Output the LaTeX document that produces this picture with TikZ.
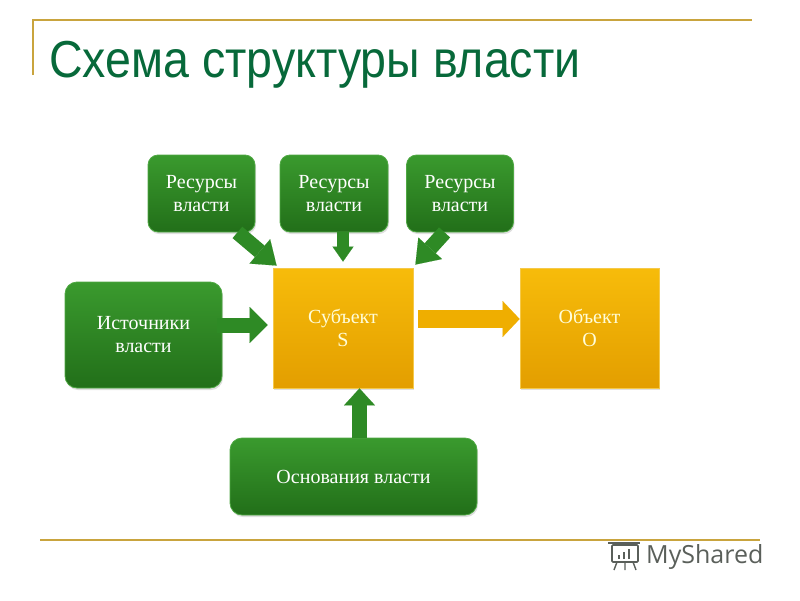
\documentclass[tikz,border=0pt]{standalone}
\usepackage{fontspec}
\setmainfont{Liberation Serif}
\newfontfamily\titlefont{Liberation Sans}
\newfontfamily\logofont{Open Sans}
\usetikzlibrary{positioning,shapes,arrows.meta,shadows}
\usepackage{xcolor}
\definecolor{gold}{HTML}{C9A43E}
\definecolor{titlegreen}{HTML}{07693A}
\definecolor{gtop}{HTML}{3A9A2E}
\definecolor{gbot}{HTML}{226F19}
\definecolor{gedge}{HTML}{4FA843}
\definecolor{garr}{HTML}{2E8A25}
\definecolor{ytop}{HTML}{F7BC0A}
\definecolor{ybot}{HTML}{E39E00}
\definecolor{yedge}{HTML}{F5C94A}
\definecolor{yarr}{HTML}{EFAE00}
\definecolor{logogrey}{HTML}{5A5F5A}

\begin{document}
\begin{tikzpicture}[x=1pt,y=-1pt,
    gbox/.style={rectangle,rounded corners=10pt,draw=gedge,line width=0.8pt,
        top color=gtop,bottom color=gbot,text=white,align=center,inner sep=0pt,
        font=\fontsize{20}{23}\selectfont,
        drop shadow={opacity=0.25,shadow xshift=1pt,shadow yshift=-2pt}},
    ybox/.style={rectangle,draw=yedge,line width=0.8pt,
        top color=ytop,bottom color=ybot,text=yellow!15,align=center,inner sep=0pt,
        font=\fontsize{20}{23}\selectfont,minimum width=140pt,minimum height=120pt,
        drop shadow={opacity=0.25,shadow xshift=1pt,shadow yshift=-2pt}},
    blk/.style n args={4}{draw=#4,line width=#1,
        -{Triangle[length=#2,width=#3,line width=0.1pt]}}]
    \useasboundingbox (0,0) rectangle (800,600);
    % title and rules
    \draw[gold,line width=1.5pt] (33,75) -- (33,20) -- (752,20);
    \draw[gold,line width=1.5pt] (40,540) -- (760,540);
    \node (t) [anchor=base west,text=titlegreen,inner sep=0pt,
        font=\titlefont\fontsize{52}{60}\selectfont] at (49,77) {\scalebox{0.895}[1]{Схема структуры власти}};
    % boxes
    \node (r1) [gbox,minimum width=107pt,minimum height=77pt] at (201.5,193.5) {Ресурсы\\власти};
    \node (r2) [gbox,minimum width=108pt,minimum height=77pt] at (334,193.5) {Ресурсы\\власти};
    \node (r3) [gbox,minimum width=107pt,minimum height=77pt] at (460,193.5) {Ресурсы\\власти};
    \node (i) [gbox,rounded corners=12pt,minimum width=157pt,minimum height=106pt] at (143.5,335) {Источники\\власти};
    \node (b) [gbox,rounded corners=12pt,minimum width=247pt,minimum height=77pt] at (353.5,476.5) {Основания власти};
    \node (s) [ybox] at (343,328) {Субъект\\S};
    \node (o) [ybox,minimum width=139pt] at (589.5,328) {Объект\\O};
    % block arrows
    \draw[blk={15pt}{22pt}{32pt}{garr}] ([xshift=-18pt]r1.south east) -- ([xshift=4pt,yshift=2pt]s.north west);
    \draw[blk={12pt}{15pt}{21pt}{garr}] (r2.south -| s.north) -- ([yshift=6pt]s.north);
    \draw[blk={15pt}{22pt}{32pt}{garr}] ([xshift=38.5pt]r3.south west) -- ([xshift=2pt,yshift=3pt]s.north east);
    \draw[blk={15pt}{18pt}{36pt}{garr}] ([xshift=-5pt,yshift=10pt]i.east) -- ([xshift=-5pt,yshift=3pt]s.west);
    \draw[blk={15pt}{17pt}{31pt}{garr}] ([xshift=6pt]b.north) -- ([xshift=6pt]b.north |- s.south);
    \draw[blk={18pt}{17pt}{36pt}{yarr}] ([xshift=5pt,yshift=9pt]s.east) -- ([yshift=9pt]o.west);
    % logo
    \draw[logogrey,line width=1.6pt,rounded corners=1pt] (612,545) rectangle (638,562);
    \draw[logogrey,line width=2pt] (608,543) -- (640,543);
    \draw[logogrey,line width=2.2pt] (619,559) -- (619,555) (624,559) -- (624,552) (629,559) -- (629,549);
    \draw[logogrey,line width=1.4pt] (617,562) -- (614,570) (625,562) -- (625,570) (633,562) -- (636,570);
    \node (m) [anchor=base west,inner sep=0pt,text=logogrey,font=\logofont\fontsize{25}{28}\selectfont] at (646,563) {MyShared};
\end{tikzpicture}
\end{document}
